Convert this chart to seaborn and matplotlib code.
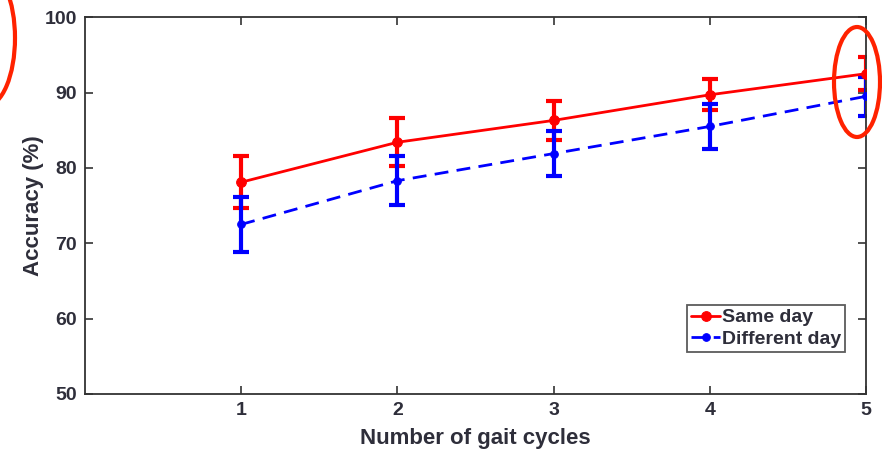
import matplotlib
matplotlib.use("Agg")
import matplotlib.pyplot as plt
import numpy as np
import pandas as pd
import seaborn as sns
from matplotlib.patches import Ellipse

cycles = [1, 2, 3, 4, 5]
same_day = [78.1, 83.4, 86.3, 89.7, 92.5]
same_day_err = [3.45, 3.2, 2.6, 2.05, 2.15]
diff_day = [72.5, 78.3, 81.9, 85.5, 89.5]
diff_day_err = [3.7, 3.25, 3.0, 2.95, 2.6]
series_names = ["Same day", "Different day"]

sns.set_style("white")
plt.rcParams["font.family"] = ["Liberation Sans", "DejaVu Sans"]
plt.rcParams["font.weight"] = "bold"

df = pd.DataFrame({
    "cycles": cycles * 2,
    "accuracy": same_day + diff_day,
    "err": same_day_err + diff_day_err,
    "series": [series_names[0]] * 5 + [series_names[1]] * 5,
})

fig = plt.figure(figsize=(8.82, 4.54), dpi=100)
ax = fig.add_axes([0.0964, 0.1322, 0.8855, 0.8300])

colors = {"Same day": "#ff0000", "Different day": "#0000ff"}
msizes = {"Same day": 7, "Different day": 5.5}
text_color = "#2e2e3a"

for name in series_names:
    sub = df[df["series"] == name]
    ax.errorbar(sub["cycles"], sub["accuracy"], yerr=sub["err"], fmt="none",
                ecolor=colors[name], elinewidth=3, capsize=6, capthick=3, zorder=2)
    line_kw = {"linestyle": "-"} if name == "Same day" else {"linestyle": (0, (5, 3))}
    sns.lineplot(data=sub, x="cycles", y="accuracy", ax=ax, color=colors[name],
                 linewidth=2, marker="o", markersize=msizes[name],
                 markeredgecolor=colors[name], label=name, zorder=3, **line_kw)

ax.set_xlim(0, 5)
ax.set_ylim(50, 100)
ax.set_xticks(cycles)
ax.set_yticks(np.arange(50, 101, 10))
ax.tick_params(direction="in", length=6, width=1.2, labelsize=14, colors="#333333",
               top=True, right=True, left=True, bottom=True, pad=6)
for lab in ax.get_xticklabels() + ax.get_yticklabels():
    lab.set_fontweight("bold")
    lab.set_color(text_color)
for s in ax.spines.values():
    s.set_color("#333333")
    s.set_linewidth(1.3)

ax.set_xlabel("Number of gait cycles", fontsize=16, fontweight="bold", color=text_color, labelpad=6)
ax.set_ylabel("Accuracy (%)", fontsize=16, fontweight="bold", color=text_color, labelpad=0)

handles, labels = ax.get_legend_handles_labels()
leg = ax.legend(handles, labels, loc="lower right", bbox_to_anchor=(0.9735, 0.112),
                frameon=True, fancybox=False, edgecolor="#333333", fontsize=14,
                handlelength=1.5, handletextpad=0.1, borderpad=0.2, labelspacing=0.2,
                borderaxespad=0)
leg.get_frame().set_linewidth(1.3)
for t in leg.get_texts():
    t.set_fontweight("bold")
    t.set_color(text_color)

# red annotation ellipses
fig.patches.append(Ellipse((857 / 882, 1 - 82 / 454), 46 / 882, 110 / 454,
                           transform=fig.transFigure, fill=False, edgecolor="#ff2200",
                           linewidth=3, zorder=10))
fig.patches.append(Ellipse((-14 / 882, 1 - 38 / 454), 58 / 882, 136 / 454,
                           transform=fig.transFigure, fill=False, edgecolor="#ff2200",
                           linewidth=3, zorder=10))

fig.savefig("out.png", dpi=100)
